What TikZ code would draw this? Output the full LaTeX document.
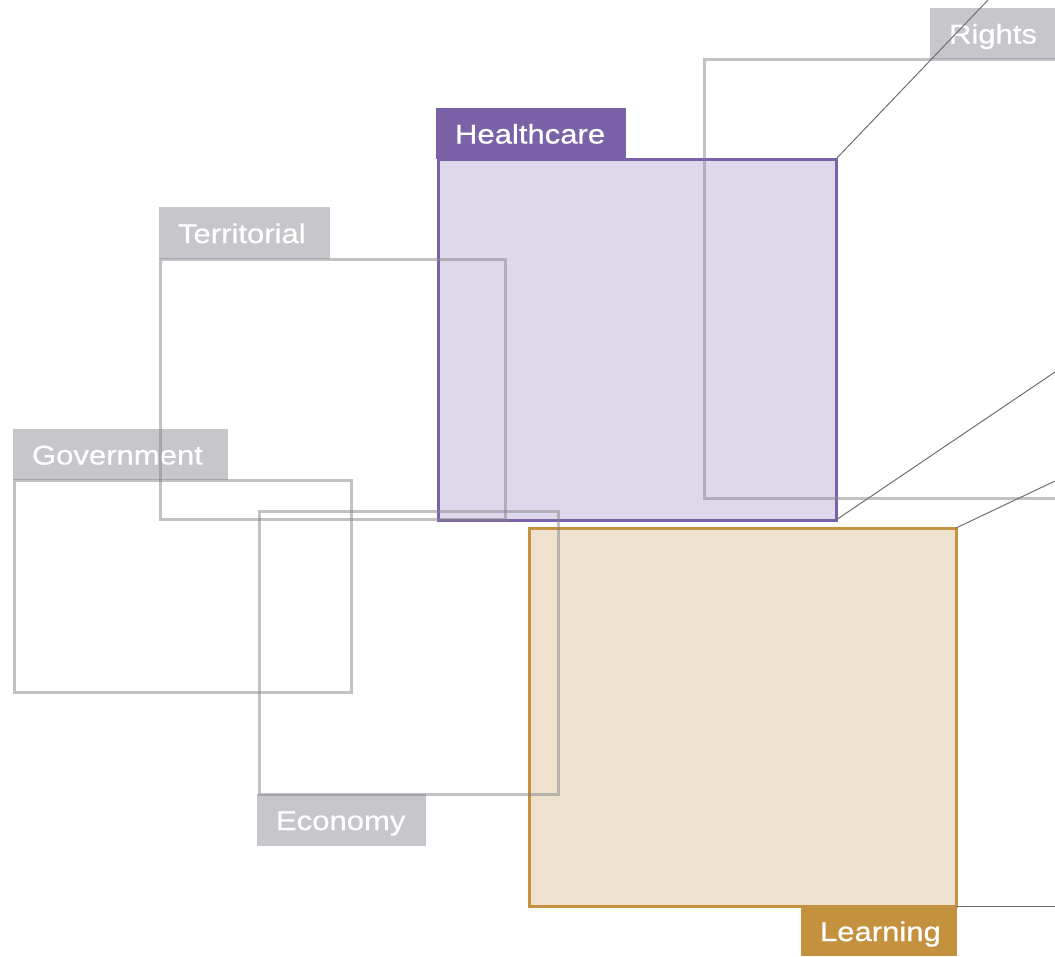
\documentclass[tikz,border=0pt]{standalone}
\usepackage{fontspec}
\setmainfont{Liberation Sans}[FakeStretch=1.15,FakeBold=0.6]
\definecolor{purp}{HTML}{7B62A8}
\definecolor{purpfill}{HTML}{DFD8EA}
\definecolor{gold}{HTML}{C4923F}
\definecolor{goldfill}{HTML}{EEE2CF}
\definecolor{labgray}{HTML}{C7C6CB}
\definecolor{strokegray}{HTML}{85848A}
\definecolor{conngray}{HTML}{6E6E73}
\begin{document}
\begin{tikzpicture}[x=1pt,y=-1pt,
  frame/.style={inner sep=0pt, outer sep=0pt, anchor=north west, line width=3pt},
  graybox/.style={frame, draw=strokegray, draw opacity=0.5},
  tag/.style={inner ysep=0pt, inner xsep=19pt, outer sep=0pt, anchor=north west,
    text=white, align=left, text height=20pt, text depth=0pt,
    font=\fontsize{27}{30}\selectfont},
  graytag/.style={tag, fill=labgray},
  conn/.style={draw=conngray, line width=1pt}]
\useasboundingbox (0,0) rectangle (1055,956);
% coloured boxes
\node[frame, draw=purp, fill=purpfill, minimum width=398pt, minimum height=361pt] (health) at (438,159) {};
\node[frame, draw=gold, fill=goldfill, minimum width=427pt, minimum height=378pt] (learn) at (529,528) {};
% labels
\node[tag, fill=purp, minimum width=190pt, minimum height=51pt, text width=152pt] (healthlab) at (436,108) {Healthcare};
\node[tag, fill=gold, minimum width=156pt, minimum height=50pt, text width=118pt] (learnlab) at (801,906) {Learning};
\node[graytag, minimum width=171pt, minimum height=52pt, text width=133pt] (terrlab) at (159,207) {Territorial};
\node[graytag, minimum width=215pt, minimum height=51pt, text width=177pt] (govlab) at (13,429) {Government};
\node[graytag, minimum width=169pt, minimum height=52pt, text width=131pt] (ecolab) at (257,794) {Economy};
\node[graytag, minimum width=140pt, minimum height=51pt, text width=102pt] (rightslab) at (930,8) {Rights};
% gray boxes
\node[graybox, minimum width=345pt, minimum height=260pt] (terr) at (160,259) {};
\node[graybox, minimum width=337pt, minimum height=212pt] (gov) at (14,480) {};
\node[graybox, minimum width=299pt, minimum height=283pt] (eco) at (259,511) {};
\node[graybox, minimum width=420pt, minimum height=439pt] (rights) at (704,59) {};
% connectors
\coordinate (c1) at (988,0);
\coordinate (c2) at (1055,372);
\coordinate (c3) at (1055,481);
\coordinate (c4) at (1055,906);
\draw[conn] (health.north east) -- (c1);
\draw[conn] (health.south east) -- (c2);
\draw[conn] (learn.north east) -- (c3);
\draw[conn] (learn.south east) -- (c4);
\end{tikzpicture}
\end{document}
